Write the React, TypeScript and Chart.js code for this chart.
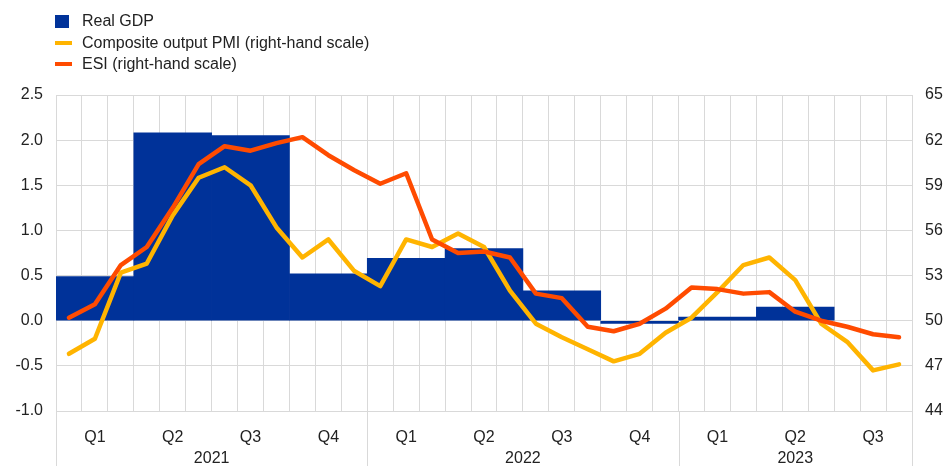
import React, { useEffect, useRef } from "react";
import { Chart, registerables } from "chart.js";

Chart.register(...registerables);

const months = [
  "2021-01", "2021-02", "2021-03", "2021-04", "2021-05", "2021-06", "2021-07", "2021-08", "2021-09", "2021-10", "2021-11", "2021-12",
  "2022-01", "2022-02", "2022-03", "2022-04", "2022-05", "2022-06", "2022-07", "2022-08", "2022-09", "2022-10", "2022-11", "2022-12",
  "2023-01", "2023-02", "2023-03", "2023-04", "2023-05", "2023-06", "2023-07", "2023-08", "2023-09",
];
const quarters = ["2021Q1", "2021Q2", "2021Q3", "2021Q4", "2022Q1", "2022Q2", "2022Q3", "2022Q4", "2023Q1", "2023Q2", "2023Q3"];
const quarterTickLabels = ["Q1", "Q2", "Q3", "Q4", "Q1", "Q2", "Q3", "Q4", "Q1", "Q2", "Q3"];
const yearLabels = ["2021", "2022", "2023"];
const yearMonthCounts = [12, 12, 9];

const realGdp = [0.49, 2.08, 2.05, 0.52, 0.69, 0.8, 0.33, -0.03, 0.04, 0.15, null];
const pmi = [47.8, 48.8, 53.2, 53.8, 57.0, 59.5, 60.2, 59.0, 56.2, 54.2, 55.4, 53.3, 52.3, 55.4, 54.9, 55.8, 54.9, 52.0, 49.8, 48.9, 48.1, 47.3, 47.8, 49.2, 50.2, 51.9, 53.7, 54.2, 52.7, 49.8, 48.6, 46.7, 47.1];
const esi = [50.2, 51.1, 53.7, 54.9, 57.5, 60.4, 61.6, 61.3, 61.8, 62.2, 61.0, 60.0, 59.1, 59.8, 55.4, 54.5, 54.6, 54.2, 51.8, 51.5, 49.6, 49.3, 49.8, 50.8, 52.2, 52.1, 51.8, 51.9, 50.6, 50.0, 49.6, 49.1, 48.9];

const BLUE = "#003299";
const YELLOW = "#FFB400";
const ORANGE = "#FF4B00";
const GRID = "#d9d9d9";
const TEXT = "#222222";
const FONT = "'Liberation Sans', Arial, sans-serif";

const yearPlugin = {
  id: "yearPlugin",
  afterDraw(chart: any) {
    const x = chart.scales.x;
    const ctx = chart.ctx;
    const area = chart.chartArea;
    const step = (x.right - x.left) / months.length;
    ctx.save();
    ctx.strokeStyle = GRID;
    ctx.lineWidth = 1;
    let start = 0;
    const bounds: number[] = [x.left];
    yearLabels.forEach((yl, i) => {
      const end = start + yearMonthCounts[i];
      const px0 = x.left + start * step;
      const px1 = x.left + end * step;
      bounds.push(px1);
      ctx.fillStyle = TEXT;
      ctx.font = `16px ${FONT}`;
      ctx.textAlign = "center";
      ctx.textBaseline = "middle";
      ctx.fillText(yl, (px0 + px1) / 2, 459);
      start = end;
    });
    bounds.forEach((b) => {
      const bx = Math.round(b) + 0.5;
      ctx.beginPath();
      ctx.moveTo(bx, area.bottom);
      ctx.lineTo(bx, chart.height);
      ctx.stroke();
    });
    ctx.restore();
  },
};

export default function App() {
  const ref = useRef<HTMLCanvasElement>(null);
  useEffect(() => {
    if (!ref.current) return;
    const chart = new Chart(ref.current, {
      type: "bar",
      data: {
        labels: months,
        datasets: [
          {
            type: "line",
            label: "ESI (right-hand scale)",
            data: esi,
            borderColor: ORANGE,
            backgroundColor: ORANGE,
            borderWidth: 4.5,
            borderCapStyle: "round",
            borderJoinStyle: "round",
            pointRadius: 0,
            tension: 0,
            xAxisID: "x",
            yAxisID: "y2",
            order: 1,
          } as any,
          {
            type: "line",
            label: "Composite output PMI (right-hand scale)",
            data: pmi,
            borderColor: YELLOW,
            backgroundColor: YELLOW,
            borderWidth: 4.5,
            borderCapStyle: "round",
            borderJoinStyle: "round",
            pointRadius: 0,
            tension: 0,
            xAxisID: "x",
            yAxisID: "y2",
            order: 2,
          } as any,
          {
            type: "bar",
            label: "Real GDP",
            data: realGdp,
            backgroundColor: BLUE,
            borderWidth: 0,
            barPercentage: 1,
            categoryPercentage: 1,
            grouped: false,
            skipNull: false,
            xAxisID: "xq",
            yAxisID: "y",
            order: 3,
          } as any,
        ],
      },
      options: {
        animation: false,
        responsive: true,
        maintainAspectRatio: false,
        layout: { padding: { top: 95, left: 0, right: 0, bottom: 0 } },
        plugins: { legend: { display: false }, tooltip: { enabled: false } },
        scales: {
          x: {
            type: "category",
            labels: months,
            position: "bottom",
            offset: true,
            grid: { color: GRID, offset: true, drawTicks: false },
            border: { display: false },
            ticks: {
              autoSkip: false,
              maxRotation: 0,
              padding: 17,
              color: TEXT,
              font: { size: 16, family: FONT },
              callback: (_v: any, i: number) => (i % 3 === 1 ? quarterTickLabels[Math.floor(i / 3)] : ""),
            },
            afterFit: (s: any) => {
              s.height = 55;
            },
          },
          xq: {
            type: "category",
            labels: quarters,
            position: "bottom",
            offset: true,
            display: true,
            grid: { display: false, drawTicks: false },
            border: { display: false },
            ticks: { display: false },
            afterFit: (s: any) => {
              s.height = 0;
            },
          },
          y: {
            position: "left",
            min: -1,
            max: 2.5,
            grid: { color: GRID, drawTicks: false },
            border: { display: false },
            ticks: {
              stepSize: 0.5,
              padding: 13,
              color: TEXT,
              font: { size: 16, family: FONT },
              callback: (v: any) => Number(v).toFixed(1),
            },
            afterFit: (s: any) => {
              s.width = 56;
            },
          },
          y2: {
            position: "right",
            min: 44,
            max: 65,
            grid: { display: false, drawTicks: false },
            border: { display: false },
            ticks: {
              stepSize: 3,
              padding: 13,
              color: TEXT,
              font: { size: 16, family: FONT },
            },
            afterFit: (s: any) => {
              s.width = 33;
            },
          },
        },
      } as any,
      plugins: [yearPlugin],
    });
    return () => chart.destroy();
  }, []);

  const legendItems = [
    { label: "Real GDP", color: BLUE, kind: "box", y: 21 },
    { label: "Composite output PMI (right-hand scale)", color: YELLOW, kind: "line", y: 42.5 },
    { label: "ESI (right-hand scale)", color: ORANGE, kind: "line", y: 63.5 },
  ];

  return (
    <div style={{ position: "absolute", left: 0, top: 0, width: 945, height: 466, background: "#fff" }}>
      <canvas ref={ref} />
      {legendItems.map((it) => (
        <div key={it.label} style={{ position: "absolute", left: 0, top: 0, width: 945 }}>
          {it.kind === "box" ? (
            <div style={{ position: "absolute", left: 55, top: it.y - 6.5, width: 14, height: 13, background: it.color }} />
          ) : (
            <div style={{ position: "absolute", left: 55, top: it.y - 2, width: 17, height: 4, background: it.color }} />
          )}
          <div
            style={{
              position: "absolute",
              left: 82,
              top: it.y - 10,
              height: 20,
              lineHeight: "20px",
              fontFamily: FONT,
              fontSize: 16,
              color: TEXT,
              whiteSpace: "nowrap",
            }}
          >
            {it.label}
          </div>
        </div>
      ))}
    </div>
  );
}
